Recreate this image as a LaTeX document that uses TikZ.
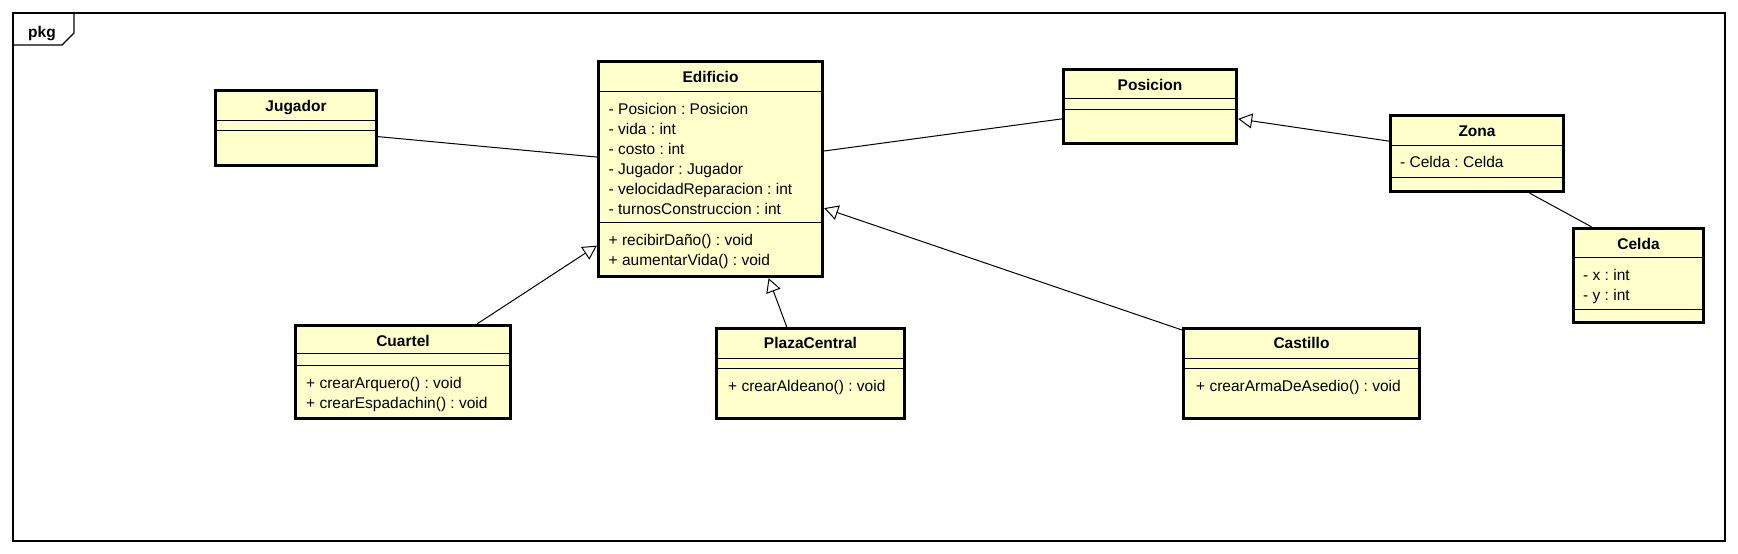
\documentclass[tikz,border=0pt]{standalone}
\usepackage{fontspec}
\setmainfont{Liberation Sans}
\usetikzlibrary{arrows.meta}
\definecolor{clasefondo}{RGB}{255,255,204}
\newcommand{\umlfont}{\fontsize{15.5}{20}\selectfont\frenchspacing}

\begin{document}
\begin{tikzpicture}[x=1pt, y=-1pt,
		clase/.style={draw, line width=2.8pt, fill=clasefondo, inner sep=0pt},
		titulo/.style={font=\umlfont\bfseries, anchor=base, inner sep=0pt},
		miembro/.style={font=\umlfont, anchor=base west, inner sep=0pt},
		linea/.style={line width=0.8pt},
		asoc/.style={line width=1pt},
		herencia/.style={line width=1pt, -{Triangle[open, length=14pt, width=15pt, fill=white]}}]
			\useasboundingbox (0,0) rectangle (1738,554);
			
			% Rahmen
			\draw[line width=1.2pt] (13,13) rectangle (1725,541);
			\draw[line width=1.2pt] (13,45) -- (62,45) -- (74,33) -- (74,13);
			\node[titulo] (pkg) at (42,37) {pkg};
			
			% Jugador
			\node[clase, minimum width=161.5pt, minimum height=75.5pt] (jugador) at (296,128) {};
			\draw[linea] (214,120) -- (378,120) (214,130) -- (378,130);
			\node[titulo] (jugadorN) at (296,111) {Jugador};
			
			% Edificio
			\node[clase, minimum width=224.5pt, minimum height=215.5pt] (edificio) at (710.5,169) {};
			\draw[linea] (597,91) -- (824,91) (597,222) -- (824,222);
			\node[titulo] (edificioN) at (710.5,82.3) {Edificio};
			\foreach \m [count=\i] in {- Posicion : Posicion, - vida : int, - costo : int, - Jugador : Jugador, - velocidadReparacion : int, - turnosConstruccion : int}
				\node[miembro] (edificioA\i) at (608.5,94.3+20*\i) {\m};
			\foreach \m [count=\i] in {+ recibirDaño() : void, + aumentarVida() : void}
				\node[miembro] (edificioM\i) at (608.5,225+20*\i) {\m};
			
			% Posicion
			\node[clase, minimum width=173.5pt, minimum height=74.5pt] (posicion) at (1150,106.5) {};
			\draw[linea] (1062,98) -- (1238,98) (1062,109) -- (1238,109);
			\node[titulo] (posicionN) at (1150,90.5) {Posicion};
			
			% Zona
			\node[clase, minimum width=173.5pt, minimum height=76.5pt] (zona) at (1477,153.5) {};
			\draw[linea] (1389,145) -- (1565,145) (1389,177) -- (1565,177);
			\node[titulo] (zonaN) at (1477,136.5) {Zona};
			\node[miembro] (zonaA1) at (1400,167.5) {- Celda : Celda};
			
			% Celda
			\node[clase, minimum width=130.5pt, minimum height=94.5pt] (celda) at (1638.5,275.5) {};
			\draw[linea] (1572,257) -- (1705,257) (1572,309) -- (1705,309);
			\node[titulo] (celdaN) at (1638.5,249) {Celda};
			\foreach \m [count=\i] in {- x : int, - y : int}
				\node[miembro] (celdaA\i) at (1583,260+20*\i) {\m};
			
			% Cuartel
			\node[clase, minimum width=215.5pt, minimum height=93.5pt] (cuartel) at (403,372) {};
			\draw[linea] (294,353) -- (512,353) (294,365) -- (512,365);
			\node[titulo] (cuartelN) at (403,346.7) {Cuartel};
			\foreach \m [count=\i] in {+ crearArquero() : void, + crearEspadachin() : void}
				\node[miembro] (cuartelM\i) at (306,368+20*\i) {\m};
			
			% PlazaCentral
			\node[clase, minimum width=188.5pt, minimum height=90.5pt] (plaza) at (810.5,373.5) {};
			\draw[linea] (715,358.5) -- (906,358.5) (715,368.5) -- (906,368.5);
			\node[titulo] (plazaN) at (810.5,348.7) {PlazaCentral};
			\node[miembro] (plazaM1) at (728,391.5) {+ crearAldeano() : void};
			
			% Castillo
			\node[clase, minimum width=236.5pt, minimum height=90.5pt] (castillo) at (1301.5,373.5) {};
			\draw[linea] (1182,358.5) -- (1421,358.5) (1182,368.5) -- (1421,368.5);
			\node[titulo] (castilloN) at (1301.5,348.7) {Castillo};
			\node[miembro] (castilloM1) at (1196,391.5) {+ crearArmaDeAsedio() : void};
			
			% Asociaciones
			\draw[asoc] (jugador.354) -- (edificio.174);
			\draw[asoc] (edificio.9) -- (posicion.188);
			\draw[asoc] (zona.323) -- (celda.134);
			
			% Herencia
			\draw[herencia] (zona.172) -- (posicion.352);
			\draw[herencia] (cuartel.33) -- (edificio.214);
			\draw[herencia] (plaza.117) -- (edificio.298);
			\draw[herencia] (castillo.160) -- (edificio.341);
		\end{tikzpicture}
\end{document}
